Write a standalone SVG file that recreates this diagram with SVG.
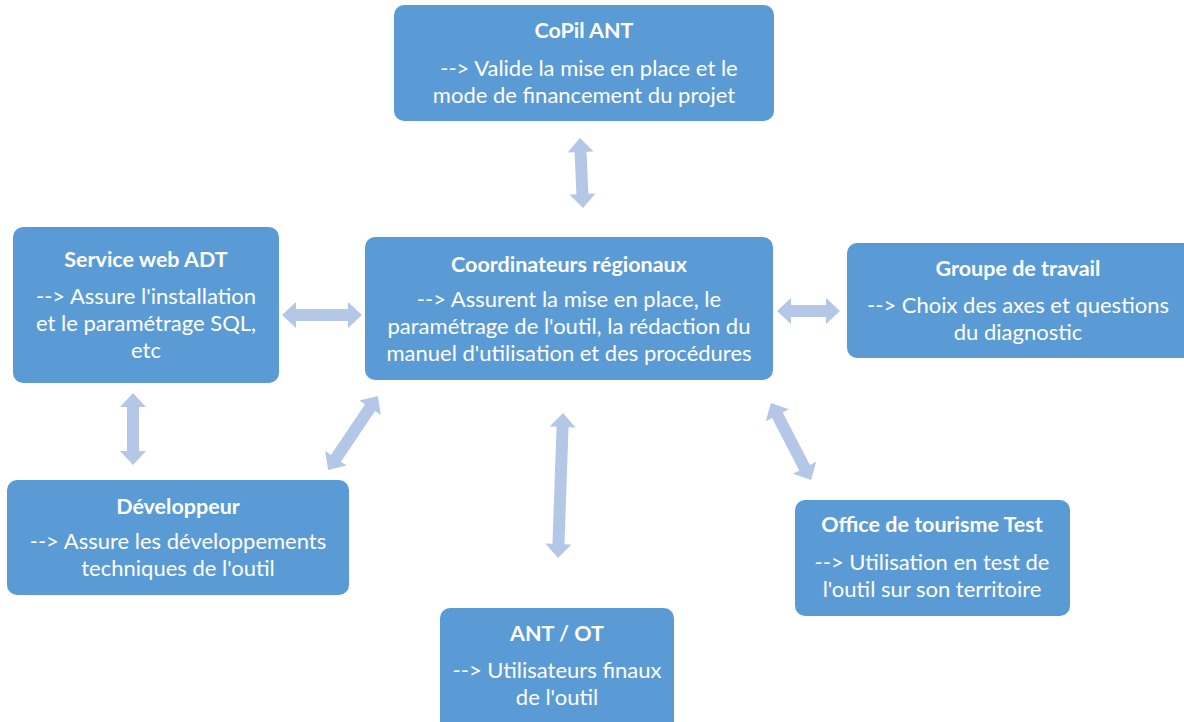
<svg xmlns="http://www.w3.org/2000/svg" width="1184" height="722" viewBox="0 0 1184 722">
<style>
.box{fill:#5B9BD5;}
.t{font-family:Lato,"Open Sans","Liberation Sans",sans-serif;fill:#fff;text-anchor:middle;}
.h{font-size:21.5px;font-weight:bold;}
.b{font-size:22px;}
.arr{fill:#B4C7E7;}
</style>
<rect width="1184" height="722" fill="#fff"/>
<g id="connectors">
<path class="arr" transform="translate(581.5,173) rotate(87.5)" d="M-35 0L-21 -13L-21 -6L21 -6L21 -13L35 0L21 13L21 6L-21 6L-21 13Z"/>
<path class="arr" transform="translate(322,315)" d="M-40 0L-26 -13L-26 -6L26 -6L26 -13L40 0L26 13L26 6L-26 6L-26 13Z"/>
<path class="arr" transform="translate(808.5,311)" d="M-31.5 0L-17.5 -13L-17.5 -6L17.5 -6L17.5 -13L31.5 0L17.5 13L17.5 6L-17.5 6L-17.5 13Z"/>
<path class="arr" transform="translate(133,429) rotate(90)" d="M-36 0L-22 -13L-22 -6L22 -6L22 -13L36 0L22 13L22 6L-22 6L-22 13Z"/>
<path class="arr" transform="translate(353,433) rotate(124)" d="M-44.5 0L-30.5 -13L-30.5 -6L30.5 -6L30.5 -13L44.5 0L30.5 13L30.5 6L-30.5 6L-30.5 13Z"/>
<path class="arr" transform="translate(560.5,485.5) rotate(92)" d="M-72.5 0L-58.5 -13L-58.5 -6L58.5 -6L58.5 -13L72.5 0L58.5 13L58.5 6L-58.5 6L-58.5 13Z"/>
<path class="arr" transform="translate(791,441.5) rotate(62.5)" d="M-43.5 0L-29.5 -13L-29.5 -6L29.5 -6L29.5 -13L43.5 0L29.5 13L29.5 6L-29.5 6L-29.5 13Z"/>
</g>
<g id="copil">
<rect class="box" x="394" y="5" width="380" height="116" rx="10"/>
<text class="t h" x="584" y="38">CoPil ANT</text>
<text class="t b" x="589" y="76">--&gt; Valide la mise en place et le</text>
<text class="t b" x="584" y="103">mode de financement du projet</text>
</g>
<g id="coord">
<rect class="box" x="365" y="237" width="408" height="143" rx="10"/>
<text class="t h" x="569" y="272">Coordinateurs régionaux</text>
<text class="t b" x="569" y="307">--&gt; Assurent la mise en place, le</text>
<text class="t b" x="569" y="334">paramétrage de l'outil, la rédaction du</text>
<text class="t b" x="569" y="361">manuel d'utilisation et des procédures</text>
</g>
<g id="service">
<rect class="box" x="13" y="227" width="266" height="156" rx="10"/>
<text class="t h" x="146" y="267">Service web ADT</text>
<text class="t b" x="146" y="304">--&gt; Assure l'installation</text>
<text class="t b" x="146" y="331">et le paramétrage SQL,</text>
<text class="t b" x="146" y="358">etc</text>
</g>
<g id="groupe">
<rect class="box" x="847" y="243" width="347" height="115" rx="10"/>
<text class="t h" x="1018" y="276">Groupe de travail</text>
<text class="t b" x="1018" y="313">--&gt; Choix des axes et questions</text>
<text class="t b" x="1018" y="340">du diagnostic</text>
</g>
<g id="dev">
<rect class="box" x="7" y="480" width="342" height="115" rx="10"/>
<text class="t h" x="178" y="514">Développeur</text>
<text class="t b" x="178" y="549">--&gt; Assure les développements</text>
<text class="t b" x="178" y="576">techniques de l'outil</text>
</g>
<g id="antot">
<rect class="box" x="440" y="608" width="234" height="124" rx="10"/>
<text class="t h" x="557" y="641">ANT / OT</text>
<text class="t b" x="557" y="678">--&gt; Utilisateurs finaux</text>
<text class="t b" x="557" y="705">de l'outil</text>
</g>
<g id="office">
<rect class="box" x="795" y="500" width="275" height="116" rx="10"/>
<text class="t h" x="932" y="532">Office de tourisme Test</text>
<text class="t b" x="932" y="570">--&gt; Utilisation en test de</text>
<text class="t b" x="932" y="597">l'outil sur son territoire</text>
</g>
</svg>
